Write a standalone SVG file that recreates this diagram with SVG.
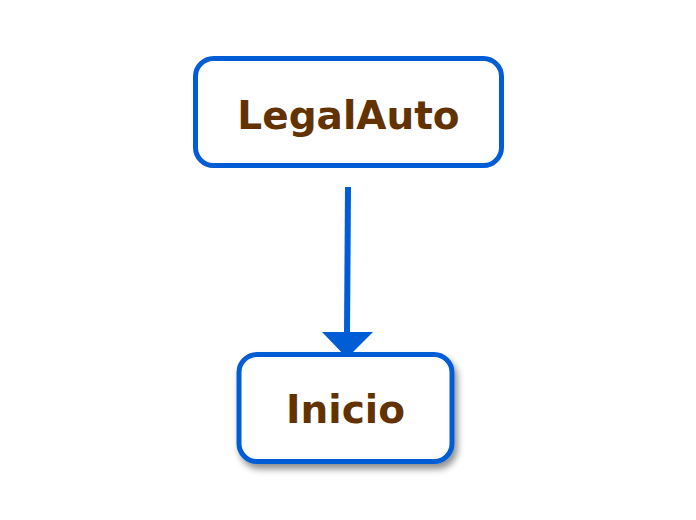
<svg xmlns="http://www.w3.org/2000/svg" width="696" height="520" viewBox="0 0 696 520">
<style>
.box{fill:#fff;stroke:#015dd6;stroke-width:5}
.lbl{font-family:"DejaVu Sans",sans-serif;font-weight:bold;fill:#623200;text-anchor:middle}
.edge{stroke:#015dd6;stroke-width:6;fill:none}
</style>
<defs>
<filter id="sh" x="-20%" y="-20%" width="150%" height="150%">
<feGaussianBlur in="SourceAlpha" stdDeviation="3.5"/>
<feOffset dx="3" dy="5" result="b"/>
<feComponentTransfer><feFuncA type="linear" slope="0.45"/></feComponentTransfer>
<feMerge><feMergeNode/><feMergeNode in="SourceGraphic"/></feMerge>
</filter>
</defs>
<rect width="696" height="520" fill="#fff"/>
<g id="connectors">
<line class="edge" x1="348" y1="187" x2="347" y2="334"/>
<polygon points="322,332 373,332 347,358" fill="#015dd6"/>
</g>
<g id="LegalAuto">
<rect class="box" x="195.5" y="58.5" width="306" height="107" rx="18"/>
<text class="lbl" x="348.5" y="129" font-size="39">LegalAuto</text>
</g>
<g id="Inicio">
<rect class="box" x="239" y="354.5" width="213" height="107" rx="18" filter="url(#sh)"/>
<text class="lbl" x="345.5" y="423" font-size="39">Inicio</text>
</g>
</svg>
